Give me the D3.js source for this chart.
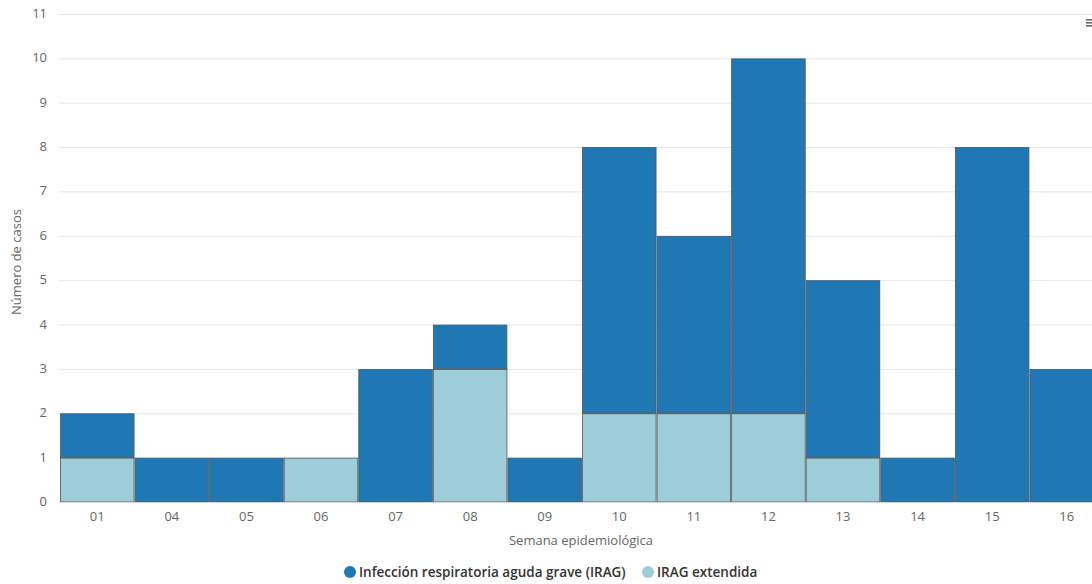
<!DOCTYPE html>
<html><head><meta charset="utf-8">
<script src="https://cdn.jsdelivr.net/npm/d3@7"></script>
<style>
body{margin:0;background:#fff;overflow:hidden}
text{font-family:"Open Sans","DejaVu Sans",sans-serif}
</style></head>
<body><svg id="c" width="1092" height="584"></svg>
<script>
const weeks = ["01","04","05","06","07","08","09","10","11","12","13","14","15","16"];
const irag = [1,1,1,0,3,1,1,6,4,8,4,1,8,3];
const iragExt = [1,0,0,1,0,3,0,2,2,2,1,0,0,0];
const yTicks = [0,1,2,3,4,5,6,7,8,9,10,11];
const seriesNames = ["Infección respiratoria aguda grave (IRAG)","IRAG extendida"];
const colors = ["#1f77b4","#9ccdd8"];

(function(){
const svg = d3.select("#c");
const pl = 60, pr = 1104, pt = 14, pb = 502;
const x = d3.scaleBand().domain(weeks).range([pl, pr]).padding(0);
const y = d3.scaleLinear().domain([0,11]).range([pb, pt]);

svg.append("g").selectAll("line").data(yTicks.filter(d=>d>0)).join("line")
  .attr("x1", pl-1).attr("x2", 1092).attr("y1", d=>y(d)+0.5).attr("y2", d=>y(d)+0.5)
  .attr("stroke","#e6e6e6").attr("stroke-width",1);

svg.append("g").selectAll("text").data(yTicks).join("text")
  .attr("x", 47).attr("y", d=>y(d)+4).attr("text-anchor","end")
  .attr("font-size",13).attr("fill","#666").text(d=>d);

const data = weeks.map((w,i)=>({w, ext: iragExt[i], irag: irag[i]}));
const stack = d3.stack().keys(["ext","irag"])(data);
const g = svg.append("g");
stack.forEach((layer, li)=>{
  g.selectAll(null).data(layer.filter(d=>d[1]>d[0])).join("rect")
    .attr("x", d=>x(d.data.w)+0.5)
    .attr("width", x.bandwidth()-1)
    .attr("y", d=>y(d[1])+0.5)
    .attr("height", d=>y(d[0])-y(d[1])-0.5)
    .attr("fill", li===0 ? colors[1] : colors[0])
    .attr("stroke","#555").attr("stroke-width",0.8);
});

svg.append("line").attr("x1",pl-1).attr("x2",1092).attr("y1",pb+0.5).attr("y2",pb+0.5)
  .attr("stroke","#ccd6eb");

svg.append("g").selectAll("text").data(weeks).join("text")
  .attr("x", d=>x(d)+x.bandwidth()/2).attr("y", 521).attr("text-anchor","middle")
  .attr("font-size",13).attr("fill","#666").text(d=>d);

svg.append("text").attr("x", 581).attr("y", 545).attr("text-anchor","middle")
  .attr("font-size",13).attr("fill","#666").text("Semana epidemiológica");
svg.append("text").attr("transform","translate(21,262) rotate(-90)").attr("text-anchor","middle")
  .attr("font-size",13).attr("fill","#666").text("Número de casos");

const leg = svg.append("g");
const items = [{x:350, name:seriesNames[0], c:colors[0]},{x:648, name:seriesNames[1], c:colors[1]}];
items.forEach(it=>{
  leg.append("circle").attr("cx",it.x).attr("cy",572).attr("r",6).attr("fill",it.c);
  leg.append("text").attr("x",it.x+9).attr("y",577).attr("font-size",13.5).attr("font-weight",600)
    .attr("fill","#333").text(it.name);
});

const m = svg.append("g");
[0,3,6].forEach(dy=>m.append("rect").attr("x",1086).attr("y",19+dy).attr("width",6).attr("height",1.6).attr("fill","#666"));
})();
</script></body></html>
